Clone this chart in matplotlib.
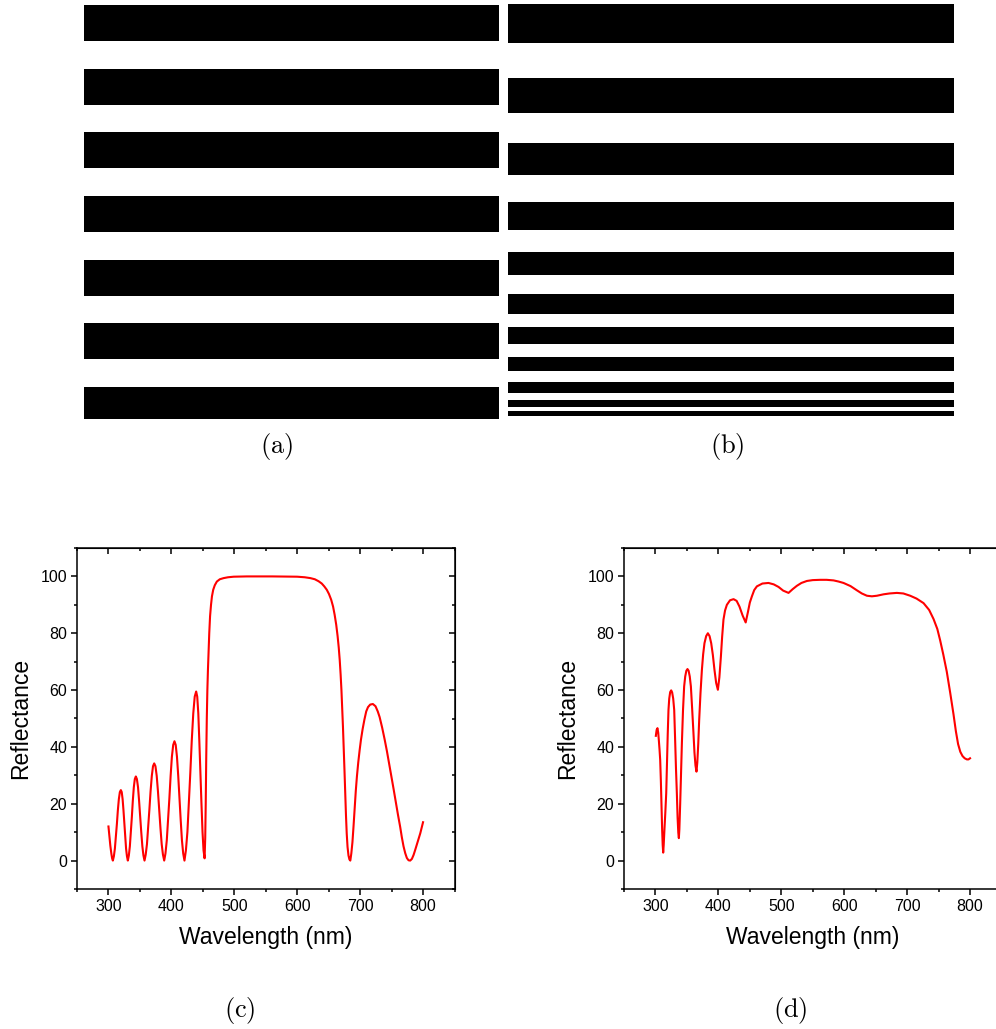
import numpy as np
import matplotlib
matplotlib.use('Agg')
from matplotlib import pyplot as plt
from matplotlib.ticker import MultipleLocator

plt.rcParams['font.family'] = ['Liberation Sans', 'DejaVu Sans']
plt.rcParams['mathtext.fontset'] = 'cm'

# layer stacks (thickness of dark / light layers, top to bottom)
a_dark = [36, 36, 36, 36, 36, 36, 32]
a_light = [28, 27, 28, 28, 27, 28]
b_dark = [39, 35, 32, 28, 23, 20, 17, 14, 11, 7, 5]
b_light = [35, 30, 27, 22, 19, 13, 13, 11, 7, 4]

# reflectance spectrum (c)
c_pts = [
    (300, 12), (301.5, 8.5), (303, 5.2), (304.5, 2.6), (305.8, 0.8),
    (307, 0), (308.6, 1.5), (310.2, 4.2), (311.8, 8.4), (313.4, 12.9), (314.9, 17.6),
    (316.5, 21.6), (318.1, 24.1), (319.7, 24.8), (321.1, 24.1), (322.5, 21.6),
    (323.9, 17.6), (325.3, 12.9), (326.6, 8.4), (328, 4.2), (329.4, 1.5),
    (330.8, 0), (332.4, 1.8), (334, 5), (335.6, 10.1), (337.2, 15.4), (338.7, 21),
    (340.3, 25.8), (341.9, 28.7), (343.5, 29.6), (345.2, 28.7), (347, 25.8),
    (348.7, 21), (350.4, 15.4), (352.1, 10.1), (353.9, 5), (355.6, 1.8),
    (357.3, 0), (359.2, 2.1), (361.2, 5.8), (363.1, 11.6), (365, 17.8), (366.9, 24.3),
    (368.9, 29.8), (370.8, 33.2), (372.7, 34.2), (374.7, 33.2), (376.7, 29.8),
    (378.7, 24.3), (380.7, 17.8), (382.6, 11.6), (384.6, 5.8), (386.6, 2.1),
    (388.6, 0), (390.6, 2.5), (392.7, 7.1), (394.7, 14.3), (396.8, 21.8), (398.8, 29.8),
    (400.8, 36.5), (402.9, 40.7), (404.9, 42), (406.9, 40.7), (408.9, 36.5),
    (410.9, 29.8), (412.9, 21.8), (414.8, 14.3), (416.8, 7.1), (418.8, 2.5),
    (420.8, 0), (423.1, 3.6), (425.5, 10.1), (427.8, 20.2), (430.1, 30.9), (432.4, 42.2),
    (434.8, 51.8), (437.1, 57.7), (439.4, 59.5), (441.1, 57.7), (442.8, 51.8),
    (444.4, 42.2), (446.1, 30.9), (447.8, 20.2), (449.5, 10.1), (451.1, 3.6),
    (452.8, 0.8), (453.8, 8), (454.6, 20), (455.4, 36), (456.3, 50), (457.2, 60),
    (458.1, 67), (459, 72.5), (460.2, 80), (461.5, 86), (463, 90), (464.5, 93),
    (466.5, 95.3), (469, 96.9), (472.3, 98.2), (477, 99), (483, 99.4), (490, 99.7),
    (499, 99.9), (520, 100), (560, 100), (600, 99.9), (612, 99.7), (621, 99.4),
    (628, 99), (634, 98.3), (639, 97.5), (643, 96.5), (647, 95.3), (650.5, 93.8),
    (654, 91.8), (657, 89.4), (659.5, 86.5), (662, 83), (664.2, 79), (666, 75),
    (667.6, 70.5), (669, 65.5), (670.3, 60), (671.5, 54), (672.7, 47.2), (673.9, 40),
    (675.1, 32), (676.3, 23.7), (677.5, 16), (678.7, 9.5), (680, 4.8), (681.5, 1.8),
    (683, 0.4), (684.4, 0), (686, 2.5), (687.8, 6.5), (689.5, 12), (691.3, 18.5),
    (693.1, 24.5), (694.9, 29.6), (697, 34.5), (699.2, 38.8), (701.3, 42.5),
    (704, 46.3), (706.8, 49.6), (709.7, 52.5), (712.5, 54), (716, 54.9), (720.3, 55.1),
    (724.5, 54.3), (728, 52.5), (731, 50.5), (735, 46.8), (739, 42.6),
    (742.6, 38.5), (746.2, 34), (749.7, 29.6), (753.1, 25.3), (756.6, 20.7),
    (760.1, 16.2), (763.7, 11.8), (766.3, 8.2), (769, 5), (771.7, 2.6), (774.3, 0.9),
    (777, 0.1), (779.6, 0), (782.3, 0.6), (785, 2), (787.6, 3.8), (790.3, 5.8),
    (793, 7.7), (795.6, 9.6), (798, 11.7), (800, 13.5),
]
c_wl = [p[0] for p in c_pts]
c_refl = [p[1] for p in c_pts]

# reflectance spectrum (d)
d_pts = [
    (300.6, 43.9), (301.9, 46), (303.2, 46.6), (304.4, 45), (305.5, 42), (306.5, 39),
    (307.5, 35.5), (308.6, 28), (309.6, 19.5), (310.6, 11), (311.5, 5.5), (312.3, 2.8),
    (313.1, 5.5), (314.3, 11), (315.7, 17), (317.1, 23.7), (318.3, 34), (319.5, 44.5),
    (320.7, 53), (321.9, 57), (323.4, 59.3), (325, 59.9), (326.5, 59.2), (328.2, 57),
    (329.8, 53), (331.2, 43), (332.6, 32.5), (334, 23.7), (335.2, 15), (336.3, 9.8),
    (337.2, 7.9), (338, 11), (339.3, 20), (340.7, 31), (342, 41.3), (343.8, 53),
    (345.6, 61.3), (347.3, 64.8), (349.1, 66.8), (350.9, 67.4), (352.7, 66.8),
    (354.5, 64.8), (356.3, 61.3), (358.3, 53.5), (360.4, 44.9), (362, 38),
    (363.6, 33.5), (365.2, 31.3), (366.5, 34.5), (368, 41), (369.5, 49.5),
    (371.6, 59), (373.8, 67.1), (375.8, 72.6), (377.9, 76.5), (380.6, 79),
    (383.3, 80), (386, 79), (388.6, 76.5), (391.2, 72.4), (393.8, 67.1),
    (396.5, 62.5), (399.2, 60.1), (401.6, 64.5), (404, 71.8), (406, 78.8),
    (408.1, 84.8), (410.6, 88), (413.5, 90), (418.5, 91.6), (424.1, 92),
    (429, 91.4), (433.5, 89.4), (438.6, 86.2), (443.4, 83.8), (447, 87.5),
    (450, 90.8), (453.3, 93), (457, 95.2), (461.2, 96.5), (470, 97.5),
    (479.7, 97.7), (488, 97.2), (495.6, 96.3), (503, 95), (511.5, 94.2),
    (518, 95.5), (524.8, 96.7), (532, 97.7), (540.7, 98.4), (550, 98.7),
    (561.8, 98.8), (572, 98.8), (583, 98.6), (591, 98.2), (598.9, 97.7),
    (610, 96.6), (620.2, 95.1), (628, 94), (636.1, 93.2), (644, 93), (652, 93.2),
    (662.5, 93.7), (672, 94), (683.7, 94.2), (694, 94), (704.9, 93.2), (715, 92.2),
    (726.1, 90.6), (735, 88.2), (742, 85), (748, 81.5), (752.5, 77.5),
    (757.5, 72.5), (763, 66.5), (768.5, 59), (773.7, 51.5), (777.5, 45.5),
    (781, 41), (784.5, 38.3), (788, 36.8), (791.5, 36), (795, 35.6),
    (797.5, 35.6), (800, 36),
]
d_wl = [p[0] for p in d_pts]
d_refl = [p[1] for p in d_pts]

W, H = 996, 1029
fig = plt.figure(figsize=(W / 100, H / 100), dpi=100)


def stack(x0, x1, dark, light, top):
    ax = fig.add_axes([x0 / W, 1 - 420 / H, (x1 - x0) / W, 420 / H])
    pos = 0
    tops, thick = [], []
    for i, d in enumerate(dark):
        tops.append(pos)
        thick.append(d)
        pos += d
        if i < len(light):
            pos += light[i]
    ax.barh(tops, [1] * len(dark), height=thick, align='edge', color='black')
    ax.set_xlim(0, 1)
    ax.set_ylim(420 - top, -top)
    ax.axis('off')
    return ax


ax_a = stack(84, 499, a_dark, a_light, 5)
ax_b = stack(508, 954, b_dark, b_light, 4)


def spectrum(x0, wl, refl):
    ax = fig.add_axes([x0 / W, 1 - 889 / H, 377.5 / W, 341 / H])
    ax.plot(wl, refl, color='red', lw=1.5)
    ax.set_xlim(250, 850)
    ax.set_ylim(-10, 110)
    ax.xaxis.set_major_locator(MultipleLocator(100))
    ax.xaxis.set_minor_locator(MultipleLocator(50))
    ax.yaxis.set_major_locator(MultipleLocator(20))
    ax.yaxis.set_minor_locator(MultipleLocator(10))
    ax.set_xticks([300, 400, 500, 600, 700, 800])
    for s in ax.spines.values():
        s.set_linewidth(1.1)
    ax.tick_params(which='major', direction='out', length=4, width=1.1,
                   labelsize=11.5, pad=3)
    ax.tick_params(which='minor', direction='out', length=2.5, width=1.1)
    ax.set_xlabel('Wavelength (nm)', fontsize=16.5, labelpad=9)
    ax.set_ylabel('Reflectance', fontsize=16.5, labelpad=6)
    top = ax.secondary_xaxis('top')
    top.xaxis.set_major_locator(MultipleLocator(100))
    top.xaxis.set_minor_locator(MultipleLocator(50))
    top.tick_params(which='major', direction='in', length=4, width=1.1, labeltop=False)
    top.tick_params(which='minor', direction='in', length=2.5, width=1.1)
    right = ax.secondary_yaxis('right')
    right.yaxis.set_major_locator(MultipleLocator(20))
    right.yaxis.set_minor_locator(MultipleLocator(10))
    right.tick_params(which='major', direction='in', length=4, width=1.1, labelright=False)
    right.tick_params(which='minor', direction='in', length=2.5, width=1.1)
    return ax


ax_c = spectrum(77, c_wl, c_refl)
ax_d = spectrum(624, d_wl, d_refl)

for lab, xc, yc in [('(a)', 277, 447), ('(b)', 727, 447), ('(c)', 240, 1011), ('(d)', 790, 1011)]:
    fig.text(xc / W, 1 - yc / H, r'$\mathrm{%s}$' % lab, fontsize=19,
             ha='center', va='center')

fig.savefig('out.png', dpi=100)
